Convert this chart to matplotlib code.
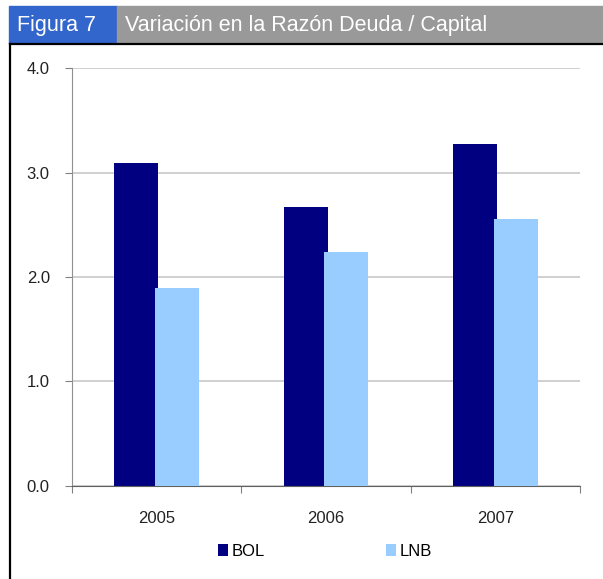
import numpy as np
import matplotlib
matplotlib.use("Agg")
import matplotlib.pyplot as plt
from matplotlib.patches import Rectangle
from matplotlib.lines import Line2D

plt.rcParams['font.family'] = ['Liberation Sans', 'DejaVu Sans']

years = ['2005', '2006', '2007']
bol = [3.09, 2.67, 3.27]
lnb = [1.89, 2.24, 2.56]
yticks = [0.0, 1.0, 2.0, 3.0, 4.0]

W, H = 603, 579
fig = plt.figure(figsize=(W / 100, H / 100), dpi=100)

# header bars
fig.patches.append(Rectangle((9 / W, 1 - 43 / H), 108 / W, 37 / H,
                             transform=fig.transFigure, color='#3366CC', zorder=0))
fig.patches.append(Rectangle((117 / W, 1 - 43 / H), (W - 117) / W, 37 / H,
                             transform=fig.transFigure, color='#999999', zorder=0))
fig.text(17 / W, 1 - 25 / H, 'Figura 7', color='white', fontsize=15.5,
         va='center', ha='left')
fig.text(125 / W, 1 - 25 / H, 'Variación en la Razón Deuda / Capital', color='white',
         fontsize=15.5, va='center', ha='left')

# black frame
fig.lines.append(Line2D([9.5 / W, 1], [1 - 44 / H, 1 - 44 / H], transform=fig.transFigure,
                        color='black', lw=1.6))
fig.lines.append(Line2D([9.5 / W, 9.5 / W], [0, 1 - 44 / H], transform=fig.transFigure,
                        color='black', lw=1.6))

ax = fig.add_axes([72 / W, (H - 485.7) / H, 508 / W, (485.7 - 68.3) / H])
x = np.arange(len(years))
w = 0.26
ax.bar(x - 0.12, bol, w, color='#000080', label='BOL', zorder=2)
ax.bar(x + 0.12, lnb, w, color='#99CCFF', label='LNB', zorder=3)

ax.set_xlim(-0.5, len(years) - 0.5)
ax.set_ylim(0, 4)
ax.set_yticks(yticks)
ax.set_yticklabels(['%.1f' % v for v in yticks], fontsize=12, color='#222222')
ax.set_xticks(np.arange(len(years) + 1) - 0.5)
ax.set_xticklabels([])
ax.set_xticks(x, minor=True)
ax.set_xticklabels(years, minor=True, fontsize=12, color='#222222')
ax.tick_params(axis='x', which='minor', length=0, pad=18)
ax.tick_params(axis='x', which='major', length=5, color='#808080', direction='out')
ax.tick_params(axis='y', length=5, color='#808080', pad=11)
ax.grid(axis='y', color='#C8C8C8', lw=1.2, zorder=0)
ax.set_axisbelow(True)
for s in ['top', 'right']:
    ax.spines[s].set_visible(False)
ax.spines['left'].set_color('#909090')
ax.spines['bottom'].set_color('#606060')

fig.legend(loc='center', bbox_to_anchor=(325 / W, 1 - 551 / H), ncol=2, frameon=False,
           fontsize=12, handlelength=0.6, handleheight=0.7, handletextpad=0.2,
           columnspacing=7.3)

fig.savefig('out.png', dpi=100)
